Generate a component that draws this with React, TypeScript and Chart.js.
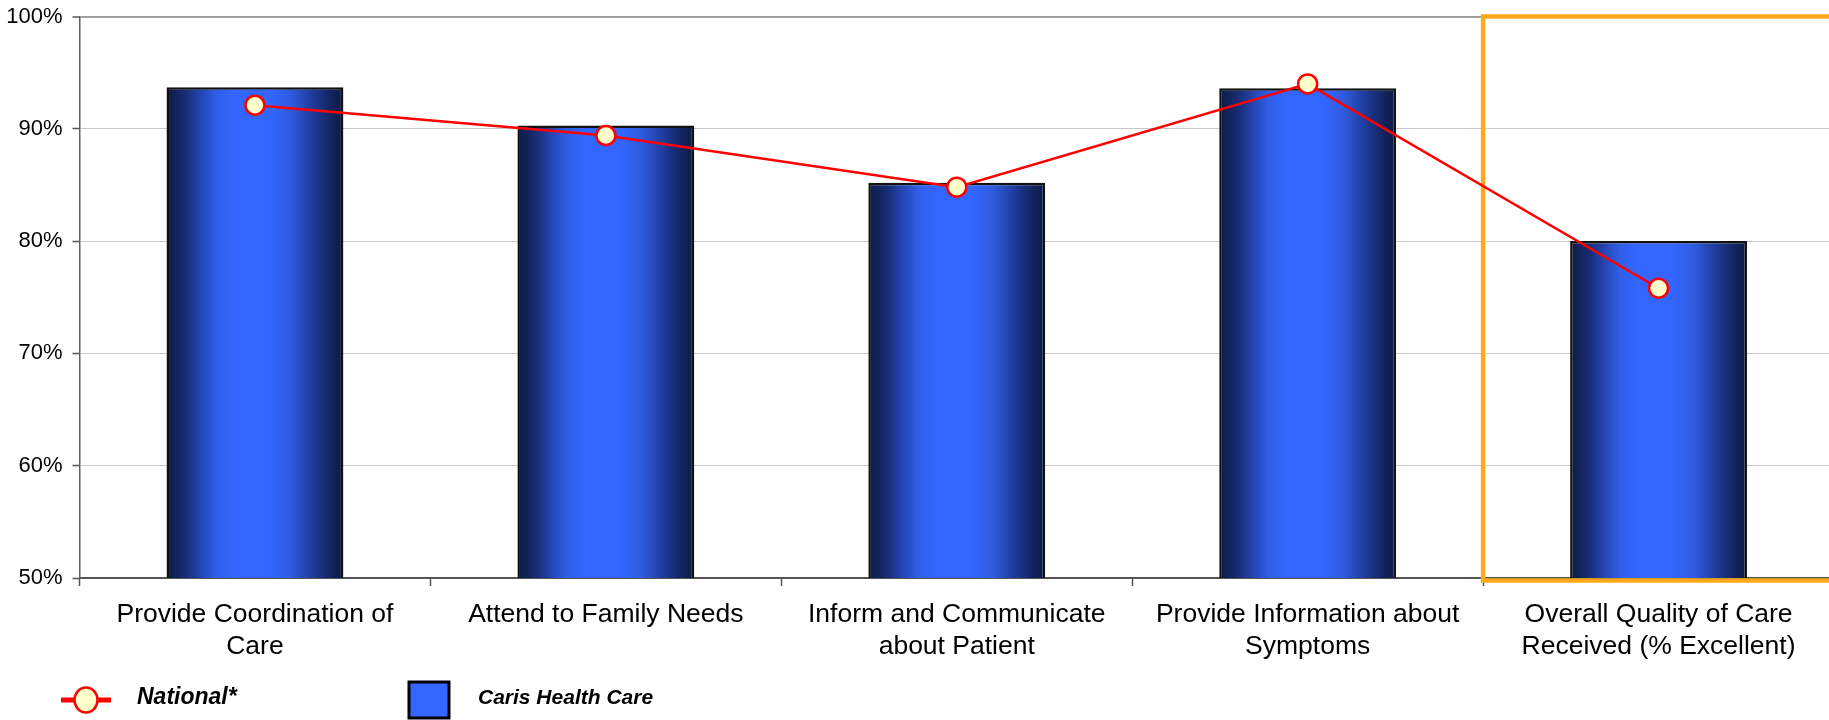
import React, { useEffect, useRef } from "react";
import { Chart, registerables } from "chart.js";

Chart.register(...registerables);

const categories: string[][] = [
  ["Provide Coordination of", "Care"],
  ["Attend to Family Needs"],
  ["Inform and Communicate", "about Patient"],
  ["Provide Information about", "Symptoms"],
  ["Overall Quality of Care", "Received (% Excellent)"],
];
const carisValues = [93.7, 90.3, 85.2, 93.6, 80.0];
const nationalValues = [92.1, 89.4, 84.8, 94.0, 75.8];
const seriesNames = ["National*", "Caris Health Care"];
const yMin = 50;
const yMax = 100;
const yStep = 10;
const highlightIndex = 4;

const FONT = "'Liberation Sans', Arial, Helvetica, sans-serif";
const BAR_PCT = 0.504;
const CANVAS_W = 1846;

function barGradient(c: any) {
  const chart = c.chart;
  const xs = chart.scales && chart.scales.x;
  if (!xs || xs.width == null || c.dataIndex == null) return "#3366ff";
  const cx = xs.getPixelForValue(c.dataIndex);
  const half = (xs.width / categories.length) * BAR_PCT / 2;
  const g = chart.ctx.createLinearGradient(cx - half, 0, cx + half, 0);
  g.addColorStop(0, "#0b1a44");
  g.addColorStop(0.1, "#172b70");
  g.addColorStop(0.2, "#2547b8");
  g.addColorStop(0.28, "#2f5ee6");
  g.addColorStop(0.38, "#3366ff");
  g.addColorStop(0.58, "#3366ff");
  g.addColorStop(0.7, "#2f5ce0");
  g.addColorStop(0.83, "#1f3a98");
  g.addColorStop(0.93, "#13245e");
  g.addColorStop(1, "#0b1a44");
  return g;
}

const highlightPlugin = {
  id: "highlightBox",
  afterDatasetDraw(chart: any, args: any) {
    if (args.index !== 1) return;
    const xs = chart.scales.x;
    const ys = chart.scales.y;
    const ctx = chart.ctx;
    const left = (xs.getPixelForValue(highlightIndex - 1) + xs.getPixelForValue(highlightIndex)) / 2;
    const top = ys.getPixelForValue(yMax);
    const bottom = ys.getPixelForValue(yMin) + 2.5;
    ctx.save();
    ctx.strokeStyle = "#ffa81c";
    ctx.lineWidth = 4.5;
    ctx.beginPath();
    ctx.moveTo(chart.width + 10, top);
    ctx.lineTo(left, top);
    ctx.lineTo(left, bottom);
    ctx.lineTo(chart.width + 10, bottom);
    ctx.stroke();
    ctx.restore();
  },
};

const legendPlugin = {
  id: "customLegend",
  afterDraw(chart: any) {
    const ctx = chart.ctx;
    const cy = 700;
    ctx.save();
    ctx.strokeStyle = "#ff0000";
    ctx.lineWidth = 5;
    ctx.beginPath();
    ctx.moveTo(61, cy);
    ctx.lineTo(111, cy);
    ctx.stroke();
    ctx.beginPath();
    ctx.ellipse(86, cy, 11.5, 12.5, 0, 0, Math.PI * 2);
    ctx.fillStyle = "#ffffcc";
    ctx.fill();
    ctx.lineWidth = 2.5;
    ctx.stroke();
    ctx.fillStyle = "#3366ff";
    ctx.fillRect(409, 682, 40, 36);
    ctx.strokeStyle = "#000000";
    ctx.lineWidth = 3;
    ctx.strokeRect(409, 682, 40, 36);
    ctx.fillStyle = "#000000";
    ctx.textBaseline = "alphabetic";
    ctx.textAlign = "left";
    ctx.font = `italic bold 23px ${FONT}`;
    ctx.fillText(seriesNames[0], 137, 704);
    ctx.font = `italic bold 21px ${FONT}`;
    ctx.fillText(seriesNames[1], 478, 704);
    ctx.restore();
  },
};

export default function App() {
  const ref = useRef<HTMLCanvasElement | null>(null);
  useEffect(() => {
    if (!ref.current) return;
    const chart = new Chart(ref.current, {
      type: "bar",
      data: {
        labels: categories as any,
        datasets: [
          {
            type: "line",
            label: seriesNames[0],
            data: nationalValues,
            borderColor: "#ff0000",
            borderWidth: 2.5,
            pointRadius: 9.5,
            pointBackgroundColor: "#ffffcc",
            pointBorderColor: "#ff0000",
            pointBorderWidth: 2.5,
            tension: 0,
            order: 0,
          } as any,
          {
            type: "bar",
            label: seriesNames[1],
            data: carisValues,
            backgroundColor: barGradient as any,
            borderColor: "#111111",
            borderWidth: 2.5,
            borderSkipped: false,
            categoryPercentage: 1,
            barPercentage: BAR_PCT,
            order: 1,
          } as any,
        ],
      },
      options: {
        animation: false,
        responsive: false,
        maintainAspectRatio: false,
        layout: { padding: { top: 16.5, right: 5.5, bottom: 0, left: 0 } },
        plugins: {
          legend: { display: false },
          tooltip: { enabled: false },
        },
        scales: {
          x: {
            type: "category",
            offset: true,
            grid: {
              display: true,
              offset: true,
              drawOnChartArea: false,
              drawTicks: true,
              tickLength: 8,
              tickColor: "#555555",
              tickWidth: 1.5,
            },
            border: { display: true, color: "#555555", width: 2 },
            ticks: {
              color: "#000000",
              font: { family: FONT, size: 26.5, lineHeight: 1.21 },
              padding: 13,
              maxRotation: 0,
              minRotation: 0,
              autoSkip: false,
            },
            afterFit(scale: any) {
              scale.height = 142;
              scale.paddingLeft = 0;
              scale.paddingRight = 0;
            },
          },
          y: {
            min: yMin,
            max: yMax,
            grid: {
              color: (c: any) => (c.tick && c.tick.value === yMax ? "#a0a0a0" : "#c8c8c8"),
              lineWidth: (c: any) => (c.tick && c.tick.value === yMax ? 2 : 1),
              tickColor: "#555555",
              tickLength: 7,
              tickWidth: 1.5,
            },
            border: { display: true, color: "#606060", width: 1.5 },
            ticks: {
              stepSize: yStep,
              color: "#000000",
              font: { family: FONT, size: 22 },
              padding: 10,
              callback: (v: any) => `${v}%`,
            },
            afterFit(scale: any) {
              scale.width = 79.5;
              scale.paddingTop = 0;
              scale.paddingBottom = 0;
            },
          },
        },
      },
      plugins: [highlightPlugin, legendPlugin],
    });
    return () => chart.destroy();
  }, []);

  return (
    <div
      style={{
        position: "fixed",
        left: 0,
        top: 0,
        width: 1829,
        height: 720,
        overflow: "hidden",
        background: "#ffffff",
      }}
    >
      <canvas
        ref={ref}
        width={CANVAS_W}
        height={720}
        style={{ display: "block", width: CANVAS_W, height: 720 }}
      />
    </div>
  );
}
